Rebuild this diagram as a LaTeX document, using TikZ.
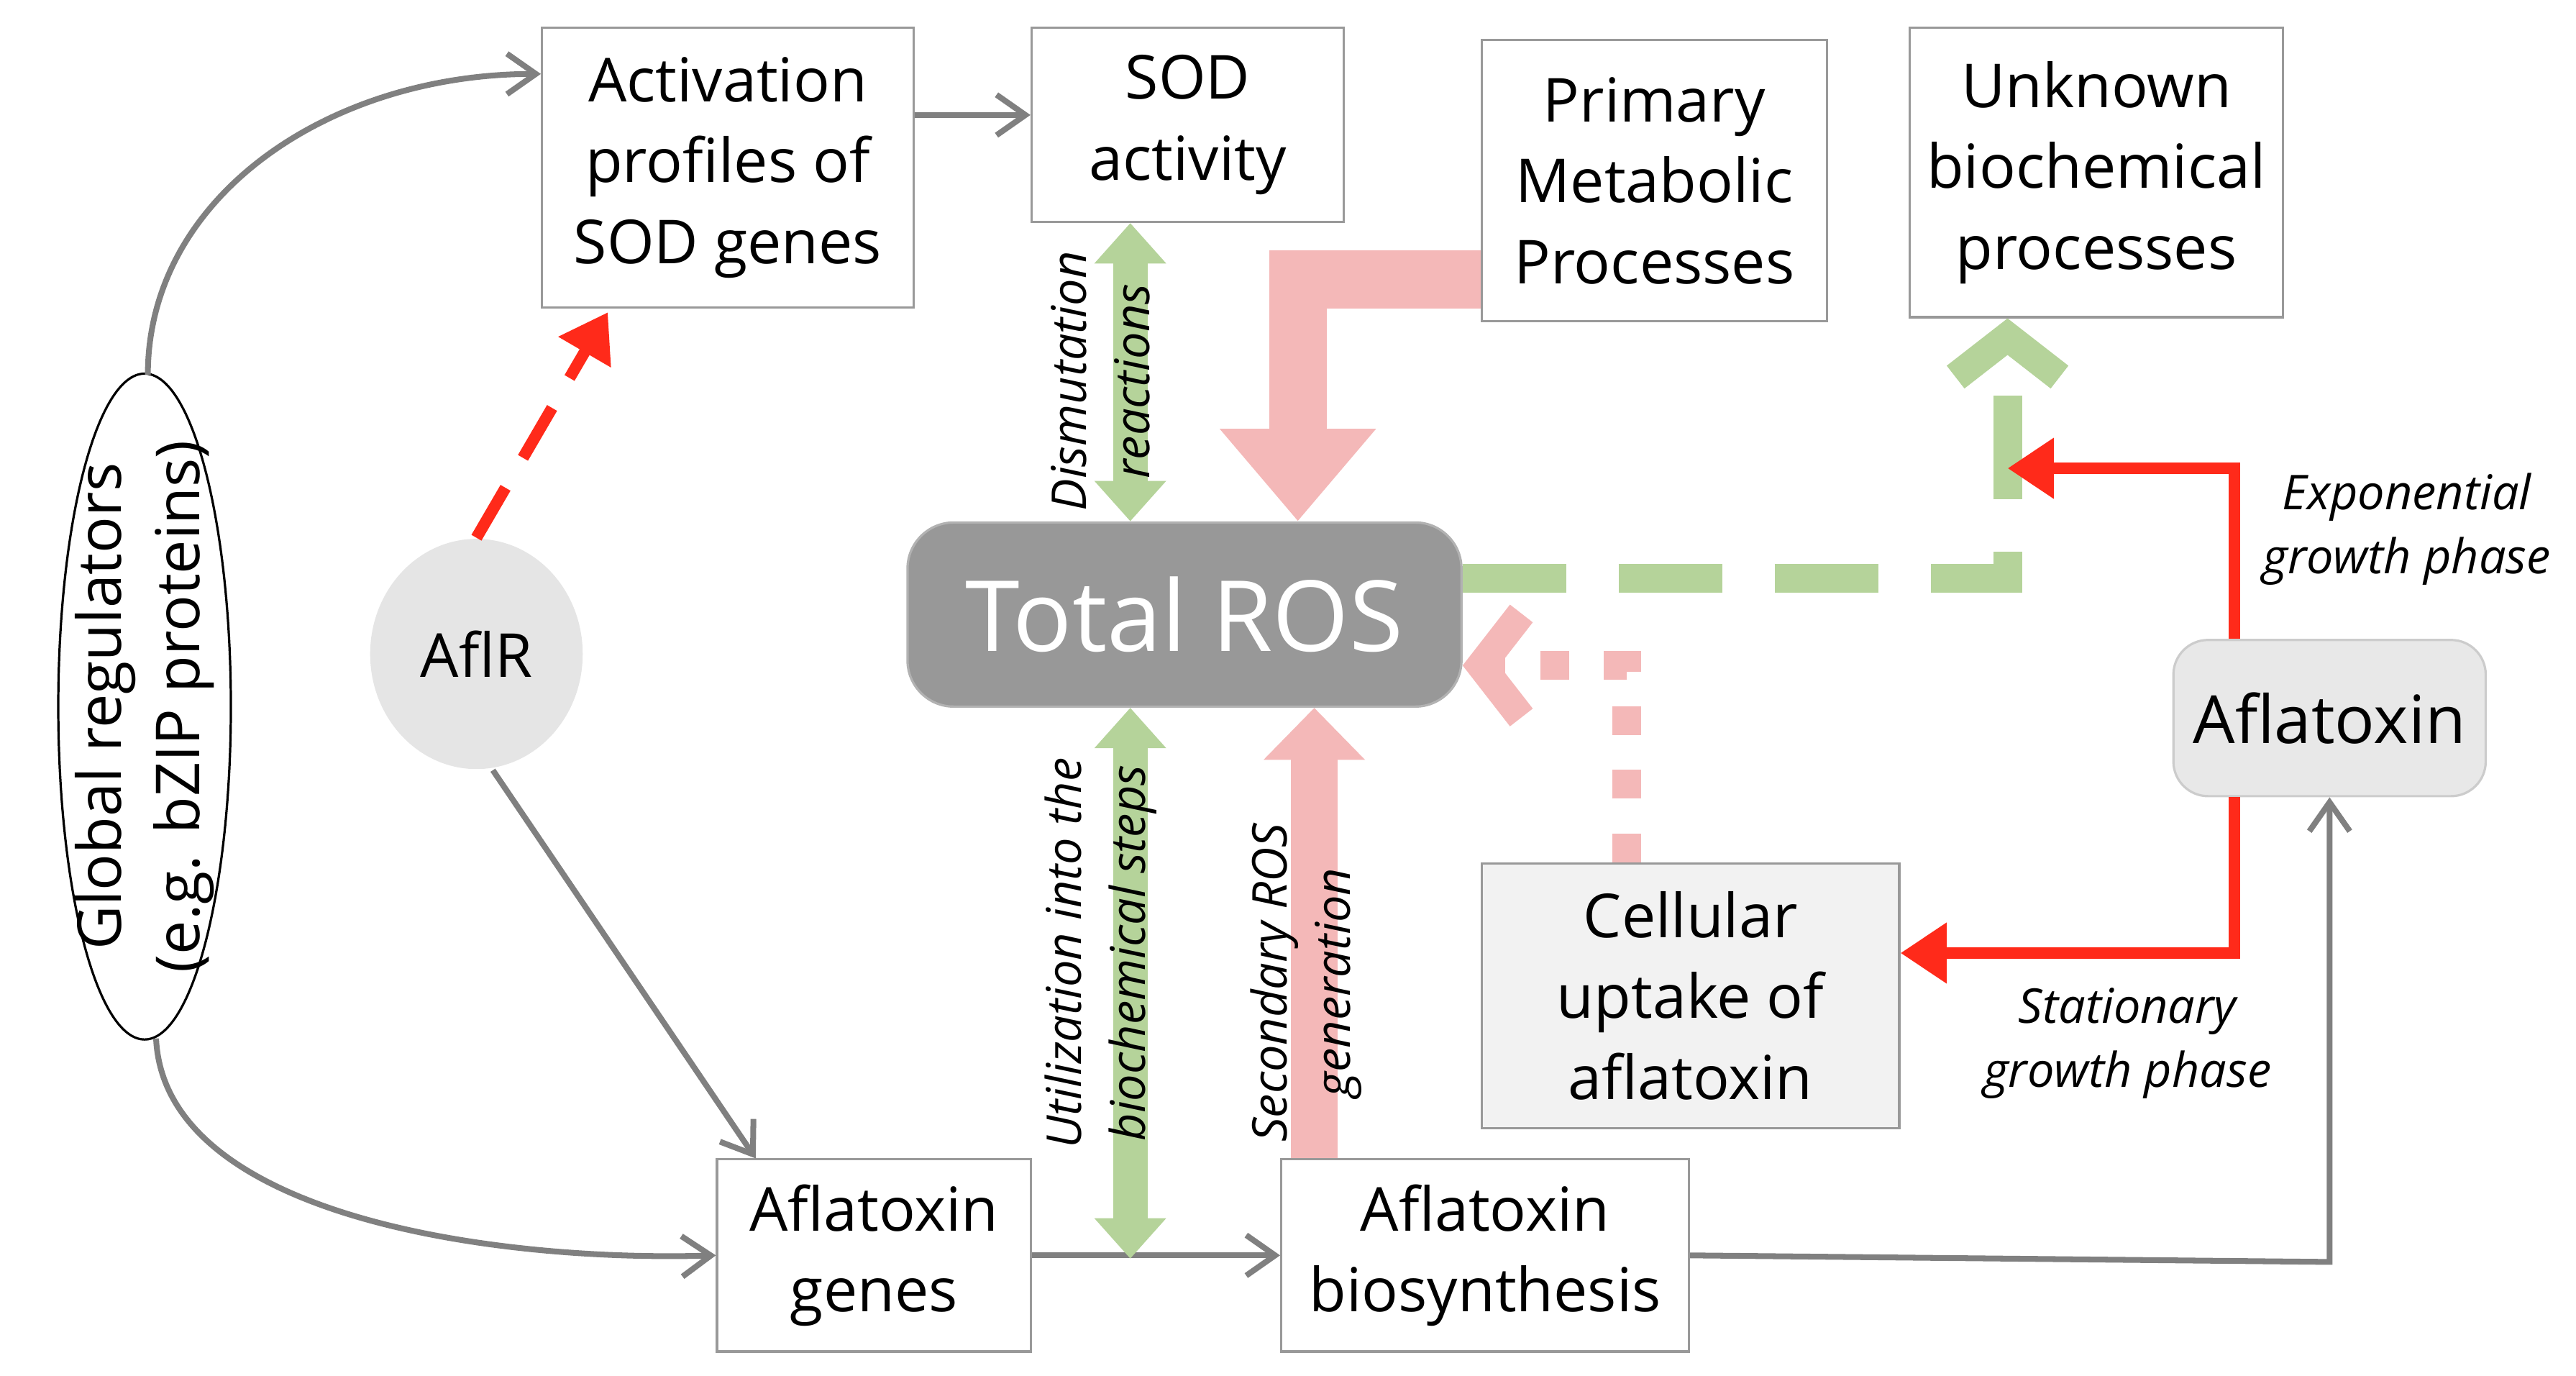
\documentclass[tikz,border=0pt]{standalone}
\usepackage{fontspec}
\setmainfont{Open Sans}
\usetikzlibrary{arrows.meta,shapes.geometric}
\definecolor{pinkros}{HTML}{F4B8B8}
\definecolor{greenros}{HTML}{B5D39A}
\definecolor{redarr}{HTML}{FF2A1A}
\tikzset{
  box/.style={draw=gray!80, fill=white, align=center, inner sep=0pt, font=\fontsize{10.5}{14}\selectfont},
  gline/.style={draw=gray, line width=1pt, -{Straight Barb[length=5pt,width=7pt]}},
  lab/.style={font=\itshape\fontsize{8.3}{11}\selectfont, align=center},
}
\begin{document}
\begin{tikzpicture}[x=0.01cm, y=-0.01cm]
	\useasboundingbox (0,0) rectangle (1568,837);
	% boxes
	\node[box, minimum width=2.26cm, minimum height=1.70cm] (act) at (443,102) {Activation\\profiles of\\SOD genes};
	\node[box, minimum width=1.90cm, minimum height=1.18cm] (sod) at (723,76) {SOD\\activity};
	\node[box, minimum width=2.10cm, minimum height=1.71cm] (prim) at (1007,110) {Primary\\Metabolic\\Processes};
	\node[box, minimum width=2.27cm, minimum height=1.76cm] (unk) at (1276,105) {Unknown\\biochemical\\processes};
	\node[box, fill=gray!10, minimum width=2.54cm, minimum height=1.61cm] (upt) at (1029,606) {Cellular\\uptake of\\aflatoxin};
	\node[box, minimum width=1.91cm, minimum height=1.17cm] (genes) at (532,764) {Aflatoxin\\genes};
	\node[box, minimum width=2.48cm, minimum height=1.17cm] (bio) at (904,764) {Aflatoxin\\biosynthesis};
	\node[draw, ellipse, minimum width=1.05cm, minimum height=4.05cm, inner sep=0pt] (glob) at (88,430) {};
	\node[rotate=90, align=center, font=\fontsize{10.5}{13.5}\selectfont] (globt) at (glob) {Global regulators\\(e.g. bZIP proteins)};
	\node[ellipse, fill=gray!20, minimum width=1.24cm, minimum height=1.40cm, font=\fontsize{10.5}{14}\selectfont] (aflr) at (290,398) {AflR};
	\node[rounded corners=8pt, fill=gray!85!black!70, draw=gray!60, minimum width=3.37cm, minimum height=1.12cm, text=white, font=\fontsize{17}{20}\selectfont] (ros) at (721,374) {Total ROS};
	\node[rounded corners=6pt, fill=gray!18, draw=gray!40, minimum width=1.90cm, minimum height=0.95cm, font=\fontsize{11.5}{14}\selectfont] (afl) at (1418,437) {Aflatoxin};
	% coordinates
	\coordinate (gtop) at (90,228);
	\coordinate (gbot) at (95,632);
	\coordinate (cbend) at (1418,768);
	\coordinate (pbend) at (790,170);
	\coordinate (dbend) at (990,405);
	\coordinate (gbend) at (1222,352);
	\coordinate (rtop) at (1360,285);
	\coordinate (rbot) at (1360,580);
	\coordinate (gx) at (688,0);
	\coordinate (gend) at (688,766);
	\coordinate (px) at (800,0);
	% gray connectors
	\draw[gline] (gtop) .. controls (90,120) and (200,45) .. (act.west |- 0,45);
	\draw[gline] (gbot) .. controls (100,740) and (300,768) .. (genes.west);
	\draw[gline] (act.east |- 0,70) -- (sod.west |- 0,70);
	\draw[gline] ([xshift=0.1cm]aflr.south) -- (460,705);
	\draw[gline] (genes.east) -- (bio.west);
	\draw[gline] (bio.east) -- (cbend) -- (afl.south);
	\draw[redarr, line width=2pt, dash pattern=on 10pt off 6pt, -{Triangle[length=8pt,width=10pt]}] (aflr.north) -- (370,190);
	% green arrows
	\draw[greenros, line width=6pt, {Triangle[length=7pt,width=12pt]}-{Triangle[length=7pt,width=12pt]}] (gx |- sod.south) -- (gx |- ros.north);
	\draw[greenros, line width=6pt, {Triangle[length=7pt,width=12pt]}-{Triangle[length=7pt,width=12pt]}] (gx |- ros.south) -- (gend);
	\draw[greenros, line width=5pt, dash pattern=on 18pt off 9pt, -{Straight Barb[length=7pt,width=18pt]}] (ros.east |- gbend) -- (gbend) -- (unk.south -| gbend);
	% pink arrows
	\draw[pinkros, line width=8pt, -{Triangle[length=9pt,width=17pt]}] (px |- bio.north) -- (px |- ros.south);
	\draw[pinkros, line width=10pt, -{Triangle[length=16pt,width=26pt]}] (prim.west |- pbend) -- (pbend) -- (ros.north -| pbend);
	\draw[pinkros, line width=5pt, dash pattern=on 5pt off 6pt, -{Straight Barb[length=7pt,width=18pt]}] (upt.north -| dbend) -- (dbend) -- (ros.east |- dbend);
	% red arrows
	\draw[redarr, line width=2pt, -{Triangle[length=8pt,width=10pt]}] (afl.north -| rtop) -- (rtop) -- (rtop -| gbend);
	\draw[redarr, line width=2pt, -{Triangle[length=8pt,width=10pt]}] (afl.south -| rbot) -- (rbot) -- (upt.east |- rbot);
	% labels
	\node[lab, rotate=90] (ldis) at (670,232) {Dismutation\\reactions};
	\node[lab, rotate=90] (lutl) at (670,580) {Utilization into the\\biochemical steps};
	\node[lab, rotate=90] (lsec) at (795,598) {Secondary ROS\\generation};
	\node[lab] (lexp) at (1465,322) {Exponential\\growth phase};
	\node[lab] (lsta) at (1295,635) {Stationary\\growth phase};
\end{tikzpicture}
\end{document}
